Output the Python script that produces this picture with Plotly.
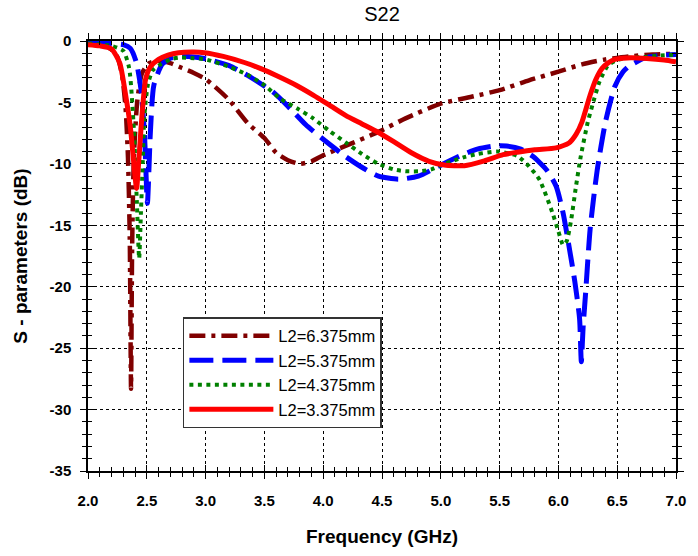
import plotly.graph_objects as go

# ---- data ----
freq_6375 = [2.0, 2.1, 2.2, 2.25, 2.29, 2.32, 2.34, 2.355, 2.366, 2.375, 2.39, 2.42, 2.46, 2.52, 2.6,
             2.7, 2.8, 2.9, 3.0, 3.1, 3.2, 3.36, 3.5, 3.6, 3.7, 3.8, 3.9, 4.0, 4.2, 4.47, 4.7, 5.0,
             5.28, 5.5, 5.75, 6.0, 6.2, 6.4, 6.6, 6.8, 7.0]
s22_6375 = [-0.2, -0.3, -0.7, -1.3, -2.8, -5.5, -9.5, -16, -28.3, -17, -9.5, -4.8, -2.6, -1.8, -1.6,
            -1.8, -2.2, -2.6, -3.1, -3.9, -4.8, -6.7, -7.9, -9.1, -9.7, -10.0, -9.8, -9.3, -8.5, -7.4,
            -6.3, -5.1, -4.5, -4.0, -3.2, -2.5, -1.9, -1.5, -1.25, -1.1, -1.05]

freq_5375 = [2.0, 2.2, 2.3, 2.36, 2.41, 2.45, 2.48, 2.505, 2.53, 2.56, 2.63, 2.7, 2.8, 2.9, 3.0, 3.2,
             3.357, 3.58, 3.72, 3.85, 4.0, 4.19, 4.35, 4.47, 4.64, 4.81, 4.98, 5.15, 5.31, 5.45, 5.56,
             5.68, 5.785, 5.9, 5.98, 6.04, 6.09, 6.14, 6.18, 6.195, 6.21, 6.23, 6.27, 6.33, 6.40, 6.48,
             6.55, 6.60, 6.73, 6.85, 7.0]
s22_5375 = [-0.15, -0.2, -0.3, -0.6, -1.7, -3.9, -7.5, -13.2, -7.5, -3.6, -1.9, -1.4, -1.25, -1.3,
            -1.45, -2.0, -2.8, -4.2, -5.5, -6.8, -8.0, -9.4, -10.4, -11.0, -11.25, -11.0, -10.2, -9.4,
            -8.8, -8.55, -8.55, -8.8, -9.4, -10.5, -11.8, -14.0, -16.7, -19.6, -22.6, -26.1, -23.3,
            -20.7, -15.3, -10.5, -6.6, -3.7, -2.5, -2.05, -1.4, -1.2, -1.1]

freq_4375 = [2.0, 2.2, 2.3, 2.35, 2.39, 2.415, 2.435, 2.45, 2.465, 2.48, 2.51, 2.55, 2.6, 2.7, 2.77,
             2.9, 3.0, 3.2, 3.357, 3.5, 3.636, 3.78, 3.915, 4.05, 4.19, 4.33, 4.47, 4.6, 4.70, 4.82,
             4.92, 5.0, 5.09, 5.2, 5.31, 5.48, 5.65, 5.75, 5.84, 5.95, 6.0, 6.04, 6.07, 6.106, 6.15,
             6.19, 6.25, 6.29, 6.35, 6.42, 6.5, 6.6, 6.73, 6.85, 7.0]
s22_4375 = [-0.2, -0.4, -0.8, -2.2, -7.2, -13.0, -17.7, -14.0, -10.0, -6.0, -3.5, -2.4, -2.0, -1.5,
            -1.35, -1.4, -1.5, -2.1, -2.75, -3.6, -4.7, -5.5, -6.3, -7.3, -8.25, -9.2, -10.0, -10.45,
            -10.6, -10.6, -10.45, -10.1, -9.8, -9.45, -9.2, -9.0, -9.35, -10.2, -11.3, -14.0, -15.5,
            -16.6, -16.3, -14.7, -11.8, -9.4, -6.6, -5.2, -3.3, -2.0, -1.55, -1.35, -1.3, -1.2, -1.1]

freq_3375 = [2.0, 2.1, 2.2, 2.27, 2.32, 2.36, 2.385, 2.413, 2.43, 2.45, 2.47, 2.49, 2.53, 2.6, 2.68,
             2.77, 2.9, 2.99, 3.15, 3.33, 3.47, 3.61, 3.77, 3.915, 4.05, 4.19, 4.33, 4.47, 4.6, 4.75,
             4.9, 5.03, 5.2, 5.37, 5.53, 5.65, 5.8, 5.98, 6.09, 6.15, 6.20, 6.27, 6.32, 6.37, 6.42,
             6.48, 6.55, 6.62, 6.75, 6.9, 7.0]
s22_3375 = [-0.3, -0.4, -0.65, -1.8, -4.4, -7.0, -9.5, -12.0, -10.0, -7.2, -4.8, -3.1, -2.1, -1.5,
            -1.15, -0.95, -0.9, -0.95, -1.25, -1.75, -2.25, -2.85, -3.6, -4.4, -5.2, -6.05, -6.75, -7.45,
            -8.2, -9.1, -9.8, -10.1, -10.15, -9.75, -9.25, -9.05, -8.85, -8.7, -8.3, -7.6, -6.6, -4.4,
            -3.1, -2.25, -1.8, -1.5, -1.4, -1.37, -1.42, -1.55, -1.7]

series_names = ["L2=6.375mm", "L2=5.375mm", "L2=4.375mm", "L2=3.375mm"]
x_ticks = [2.0, 2.5, 3.0, 3.5, 4.0, 4.5, 5.0, 5.5, 6.0, 6.5, 7.0]
y_ticks = [0, -5, -10, -15, -20, -25, -30, -35]

FONT = "Arial, Liberation Sans, sans-serif"

fig = go.Figure()
styles = [
    dict(color="#800000", width=4.5, dash="16px,6px,4px,6px"),
    dict(color="#0000FF", width=5, dash="24px,9px"),
    dict(color="#008000", width=4, dash="4px,4.5px"),
    dict(color="#FF0000", width=5, dash="solid"),
]
data = [(freq_6375, s22_6375), (freq_5375, s22_5375), (freq_4375, s22_4375), (freq_3375, s22_3375)]
for (fx, fy), name, st in zip(data, series_names, styles):
    fig.add_trace(go.Scatter(x=fx, y=fy, mode="lines", name=name,
                             line=dict(color=st["color"], width=st["width"], dash=st["dash"],
                                       shape="spline", smoothing=0.6)))

# dummy trace for the inner-tick overlay axes
fig.add_trace(go.Scatter(x=[], y=[], xaxis="x2", yaxis="y2", showlegend=False, hoverinfo="skip"))

tickfont = dict(family=FONT, size=15, color="black", weight="bold")
common = dict(showline=True, linecolor="black", linewidth=1.5, ticks="outside", ticklen=6,
              tickwidth=1.3, tickcolor="black", mirror="ticks", zeroline=False)

fig.update_layout(
    width=698, height=556,
    margin=dict(l=88, r=15, t=41, b=82),
    paper_bgcolor="white", plot_bgcolor="white",
    title=dict(text="S22", xref="paper", x=0.5, xanchor="center", yref="container",
               y=1 - 14 / 556, yanchor="middle",
               font=dict(family=FONT, size=20, color="black")),
    xaxis=dict(range=[2, 7], tickvals=x_ticks, ticktext=[f"{v:.1f}" for v in x_ticks],
               tickfont=tickfont, ticklabelstandoff=9,
               showgrid=True, gridcolor="black", griddash="dot", gridwidth=1,
               minor=dict(dtick=0.1, ticks="outside", ticklen=4, tickwidth=1.1, tickcolor="black",
                          showgrid=False),
               title=dict(text="Frequency (GHz)", standoff=22,
                          font=dict(family=FONT, size=19, color="black", weight="bold")),
               **common),
    yaxis=dict(range=[-35, 0], tickvals=y_ticks, ticktext=[str(v) for v in y_ticks],
               tickfont=tickfont, ticklabelstandoff=6,
               showgrid=True, gridcolor="black", griddash="dot", gridwidth=1,
               minor=dict(dtick=1, ticks="outside", ticklen=4, tickwidth=1.1, tickcolor="black",
                          showgrid=False),
               title=dict(text="S - parameters (dB)", standoff=17,
                          font=dict(family=FONT, size=19, color="black", weight="bold")),
               **common),
    xaxis2=dict(range=[2, 7], overlaying="x", anchor="y2", side="bottom", tickvals=x_ticks,
                showticklabels=False, showgrid=False, zeroline=False,
                showline=True, linecolor="black", linewidth=1.5,
                ticks="inside", ticklen=6, tickwidth=1.3, tickcolor="black", mirror="ticks",
                minor=dict(dtick=0.1, ticks="inside", ticklen=4, tickwidth=1.1, tickcolor="black")),
    yaxis2=dict(range=[-35, 0], overlaying="y", anchor="x2", side="left", tickvals=y_ticks,
                showticklabels=False, showgrid=False, zeroline=False,
                showline=True, linecolor="black", linewidth=1.5,
                ticks="inside", ticklen=6, tickwidth=1.3, tickcolor="black", mirror="ticks",
                minor=dict(dtick=1, ticks="inside", ticklen=4, tickwidth=1.1, tickcolor="black")),
    legend=dict(x=(184 - 88) / 595, y=(474 - 319) / 433, xanchor="left", yanchor="top",
                bgcolor="white", bordercolor="#333333", borderwidth=1.5,
                font=dict(family=FONT, size=16.5, color="black"),
                itemwidth=84, tracegroupgap=0),
    showlegend=True,
)

fig.write_html("out.html")
